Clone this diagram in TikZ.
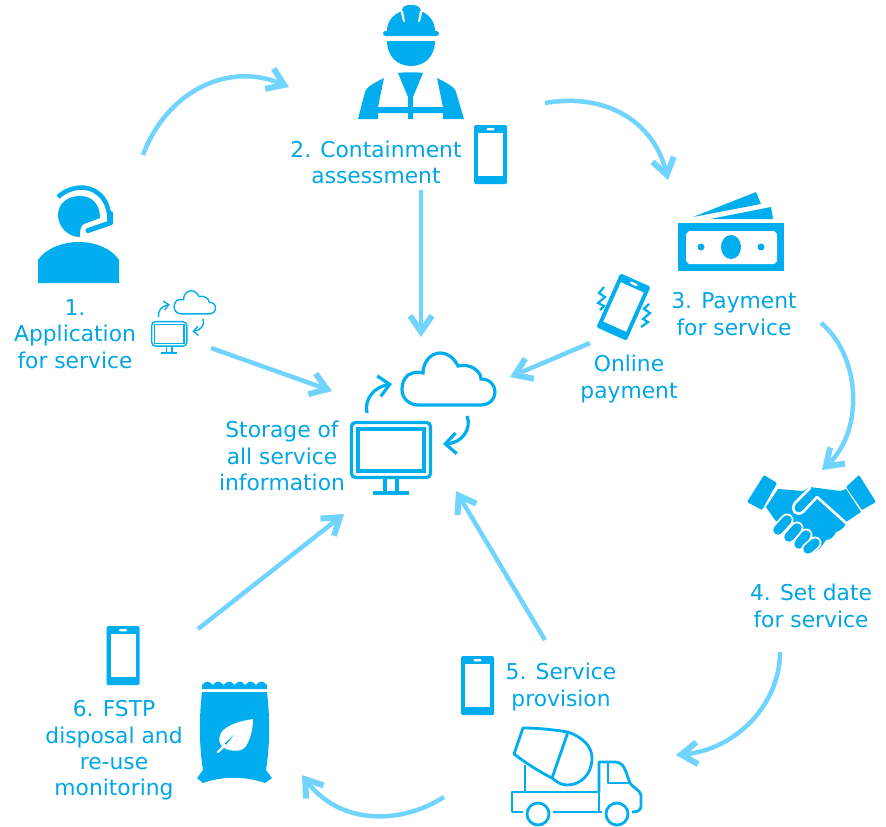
\documentclass[tikz,border=0pt]{standalone}
\usepackage{fontspec}
\setmainfont{DejaVu Sans}
\usetikzlibrary{arrows.meta}
\definecolor{iconblue}{HTML}{00AEEF}
\definecolor{textblue}{HTML}{00A6E6}
\definecolor{flowblue}{HTML}{70D4FF}
\tikzset{
  pcwidth/.store in=\pcwidth, pcwidth=3pt,
  phone/.pic={
    \fill[iconblue, rounded corners=1.5pt] (-16.5,-29.5) rectangle (16.5,29.5);
    \fill[white] (-12.5,-21.5) rectangle (12.5,21.5);
    \fill[white, rounded corners=1pt] (-4,-26.5) rectangle (4,-24.2);
  },
  cloudpc/.pic={
    % Monitor
    \draw[iconblue, line width=\pcwidth, rounded corners=4pt] (1.5,1.5) rectangle (80.5,56.5);
    \draw[iconblue, line width=\pcwidth] (8,8) rectangle (74,50);
    \draw[iconblue, line width=\pcwidth] (35,58) -- (35,72) (47,58) -- (47,72) (23,72) -- (59,72);
    % Cloud
    \draw[iconblue, line width=\pcwidth] (68,-16) -- (130,-16)
      .. controls (140,-16) and (145,-22) .. (145,-29)
      .. controls (145,-36) and (140,-42) .. (131,-42)
      .. controls (131,-50) and (120,-58) .. (108,-55)
      .. controls (104,-63) and (98,-68) .. (90,-68)
      .. controls (80,-68) and (73,-58) .. (73,-48)
      .. controls (70,-49) and (66,-49) .. (63,-48)
      .. controls (56,-47) and (52,-40) .. (52,-31)
      .. controls (52,-23) and (59,-16) .. (68,-16) -- cycle;
    % Cycle arrows
    \draw[iconblue, line width=\pcwidth, -{Straight Barb[length=0pt 3.4 0, width=0pt 6.5 0]}]
      (17,-8) .. controls (14,-22) and (24,-34) .. (42,-37);
    \draw[iconblue, line width=\pcwidth, -{Straight Barb[length=0pt 3.4 0, width=0pt 6.5 0]}]
      (117,-5) .. controls (122,8) and (112,22) .. (93,23);
  }
}

\begin{document}
\begin{tikzpicture}[
  x=1pt, y=-1pt,
  flow/.style={draw=flowblue, line width=4.5pt, -{Straight Barb[length=16pt, width=22pt, line width=6pt]}},
  step label/.style={text=textblue, align=center, inner sep=0pt, font=\fontsize{21.8}{26.4}\selectfont},
  icon/.style={fill=iconblue, draw=none},
  truck line/.style={draw=iconblue, line width=2.8pt, line join=round}
]
\useasboundingbox (0,0) rectangle (886,827);

%% LABELS
\node[step label] (label_app) at (75,334) {1.\\Application\\for service};
\node[step label] (label_assess) at (376,162.5) {2. Containment\\assessment};
\node[step label] (label_pay) at (734,314) {3. Payment\\for service};
\node[step label] (label_online) at (629,379) {Online\\payment};
\node[step label] (label_store) at (282,456) {Storage of\\all service\\information};
\node[step label] (label_date) at (811,606) {4. Set date\\for service};
\node[step label] (label_prov) at (561,687) {5. Service\\provision};
\node[step label] (label_fstp) at (114,750.5) {6. FSTP\\disposal and\\re-use\\monitoring};

%% ICONS
% Agent with headset
\fill[icon] (80,237) .. controls (68,237) and (58,227) .. (58,215)
  .. controls (58,203) and (68,196) .. (80,196)
  .. controls (92,196) and (100,204) .. (100,218)
  -- (84,224) .. controls (80,226) and (80,232) .. (80,237) -- cycle;
\draw[iconblue, line width=4.5pt] (58,197) .. controls (70,186) and (88,184) .. (99,194)
  .. controls (105,199) and (108,206) .. (109,214);
\fill[icon] (107,209) -- (113,212) -- (113,224) -- (107,226) -- cycle;
\draw[iconblue, line width=5pt, line cap=round] (110,223) -- (88,230.5);
\fill[icon] (38,283) -- (38,260) .. controls (45,249) and (62,242) .. (79,242)
  .. controls (96,242) and (112,249) .. (119,260) -- (119,283) -- cycle;

% Worker with helmet
\fill[icon] (387,31) .. controls (387,22) and (392,15) .. (402,11)
  .. controls (402,6) and (406,5) .. (411,5) .. controls (416,5) and (420,6) .. (421,11)
  .. controls (430,15) and (435,22) .. (435,31) -- cycle;
\fill[white] (400.5,11) -- (403,11) -- (405,21.5) -- (403,21.5) -- cycle;
\fill[white] (420,11) -- (422.5,11) -- (420,21.5) -- (418,21.5) -- cycle;
\fill[icon, rounded corners=2.5pt] (383,31) rectangle (439,36);
\fill[icon] (387,41) -- (435,41) .. controls (435,56) and (425,66) .. (411,66)
  .. controls (397,66) and (387,56) .. (387,41) -- cycle;
\fill[icon] (358,119) -- (365,92) .. controls (366,87) and (376,82) .. (384,78) -- (378,107) -- (408,107)
  -- (408,97) -- (398,73) .. controls (406,72) and (416,72) .. (423,73) -- (413,97) -- (413,107)
  -- (443,107) -- (437,78) .. controls (445,82) and (455,87) .. (456,92) -- (464,119) -- (443,119)
  -- (443,113) -- (413,113) -- (413,119) -- (408,119) -- (408,113) -- (378,113) -- (378,119) -- cycle;

% Phones
\pic at (490.5,154.5) {phone};
\pic at (123,655.5) {phone};
\pic at (477.5,685.5) {phone};
\pic[rotate=-24] at (623.5,307) {phone};
\draw[iconblue, line width=2.2pt] (604,287) -- (599,293) -- (605,297) -- (598,303) -- (604,306) -- (600,310);
\draw[iconblue, line width=2.2pt] (649,304) -- (644,309) -- (650,313) -- (643,319) -- (648,322) -- (641,327);

% Money
\fill[icon] (693,217) -- (756,192) -- (761,204) -- cycle;
\fill[icon] (710,219) -- (771,207) -- (773,219) -- cycle;
\fill[icon] (678,223) rectangle (784,271);
\fill[white] (689,231) -- (774,231) -- (777,234) -- (777,261) -- (774,264) -- (689,264) -- (686,261) -- (686,234) -- cycle;
\fill[icon] (731,247) ellipse [x radius=10, y radius=12];
\fill[icon] (701,247) circle [radius=3.5];
\fill[icon] (761,247) circle [radius=3.5];

% Handshake
\fill[icon, rounded corners=1pt] (764,475) -- (777,483) -- (762,510) -- (747,502) -- cycle;
\fill[icon, rounded corners=1pt] (859,475) -- (846,487) -- (862,510) -- (876,502) -- cycle;
\fill[icon] (778,489) -- (803,491) -- (810,487) -- (840,491) -- (846,489) -- (861,512) -- (846,522)
  .. controls (846,527) and (840,531) .. (836,532) .. controls (834,537) and (830,540) .. (826,540)
  .. controls (822,546) and (818,553) .. (810,552) -- (792,534) -- (775,520) -- (766,507) -- cycle;
\draw[white, line width=2.6pt, line join=round, line cap=round] (846,523) -- (817,497) -- (803,512)
  .. controls (796,517) and (790,510) .. (795,503) -- (810,488);
\foreach \fx/\fy/\gx/\gy in {778/530/787/520, 789/537/797/528, 799/544/806/535, 808/549/815/543} {
  \draw[white, line width=13pt, line cap=round] (\fx,\fy) -- (\gx,\gy);
  \draw[iconblue, line width=9.5pt, line cap=round] (\fx,\fy) -- (\gx,\gy);
}

% Concrete mixer truck
\draw[truck line] (523,812) -- (512,812) -- (512,792) -- (599,792) -- (599,812);
\draw[truck line] (553,812) -- (602,812);
\draw[truck line] (538,814) circle [radius=11];
\draw[truck line] (617,814) circle [radius=11];
\draw[truck line] (599,792) -- (599,762) -- (615,762) .. controls (621,762) and (624,766) .. (626,772)
  -- (630,783) .. controls (632,787) and (640,790) .. (641,795) -- (641,806)
  .. controls (641,810) and (638,812) .. (632,812);
\draw[truck line] (608,762) -- (608,783) -- (630,783);
\draw[truck line] (525,765) -- (525,792);
\draw[truck line] (523,728) .. controls (540,728) and (555,730) .. (568,732)
  .. controls (582,737) and (592,746) .. (592,758) .. controls (592,774) and (581,785) .. (567,785)
  .. controls (560,785) and (556,781) .. (552,778) .. controls (538,771) and (526,763) .. (514,754) -- cycle;
\draw[truck line] (568,732) -- (552,778);

% Bag with leaf
\fill[icon] (202,689) -- (202,685) \foreach \wx in {202,212.8,223.6,234.4,245.2,256} {.. controls (\wx+3.5,680.5) and (\wx+7.3,680.5) .. (\wx+10.8,685)}
  -- (266.8,689) -- cycle;
\fill[icon] (202,692) -- (267,692) .. controls (270,718) and (270,745) .. (266,770)
  -- (272,778) -- (265,783) .. controls (245,776) and (222,776) .. (203,783)
  -- (197,778) -- (203,770) .. controls (199,745) and (199,718) .. (202,692) -- cycle;
\fill[white] (253,719) .. controls (240,721) and (226,725) .. (221,733)
  .. controls (218,739) and (219,743) .. (222,746) -- (236,732) -- (224,748)
  .. controls (232,752) and (242,752) .. (246,746) .. controls (251,738) and (253,728) .. (253,719) -- cycle;
\draw[white, line width=2.2pt, line cap=round] (218,752) -- (225,745);

% Storage
\pic[pcwidth=3.2pt] at (350,421) {cloudpc};
\pic[scale=.445, pcwidth=1.4pt] at (151,321) {cloudpc};

%% CONNECTORS
\coordinate (app_out) at (143,155);
\coordinate (assess_in) at (289,87);
\coordinate (assess_out) at (545,103);
\coordinate (pay_in) at (668,180);
\coordinate (pay_out) at (821,323);
\coordinate (date_in) at (822,470);
\coordinate (date_out) at (780,652);
\coordinate (prov_in) at (676,755);
\coordinate (prov_out) at (444,797);
\coordinate (fstp_in) at (302,775);
\coordinate (assess_down) at (421,190);
\coordinate (store_top) at (421,337);
\coordinate (app_store) at (211,348);
\coordinate (store_left) at (332,391);
\coordinate (online_store) at (590,343);
\coordinate (store_right) at (510,377);
\coordinate (prov_store) at (545,640);
\coordinate (store_bottom) at (456,491);
\coordinate (fstp_store) at (198,629);
\coordinate (store_lower) at (344,514);

\draw[flow] (app_out) .. controls (165,95) and (225,60) .. (assess_in);
\draw[flow] (assess_out) .. controls (610,92) and (655,125) .. (pay_in);
\draw[flow] (pay_out) .. controls (860,355) and (865,430) .. (date_in);
\draw[flow] (date_out) .. controls (780,705) and (735,750) .. (prov_in);
\draw[flow] (prov_out) .. controls (400,825) and (340,825) .. (fstp_in);
\draw[flow] (assess_down) -- (store_top);
\draw[flow] (app_store) -- (store_left);
\draw[flow] (online_store) -- (store_right);
\draw[flow] (prov_store) -- (store_bottom);
\draw[flow] (fstp_store) -- (store_lower);

\end{tikzpicture}
\end{document}
